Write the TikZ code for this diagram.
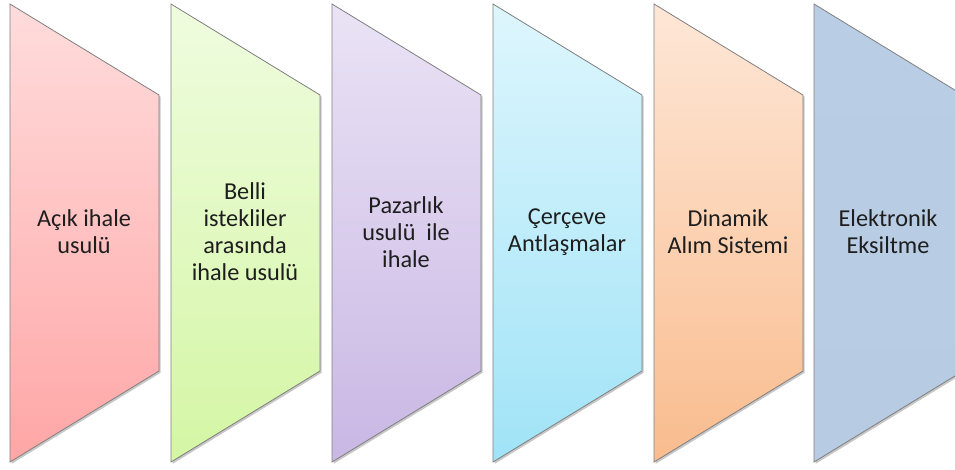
\documentclass[tikz,border=0pt]{standalone}
\usepackage{fontspec}
\setmainfont{Carlito}
\usetikzlibrary{shadows}

% fill colours of the six procedure shapes (top / bottom of the gradient)
\definecolor{redTop}{HTML}{FFDCDC}
\definecolor{redBot}{HTML}{FFA6A6}
\definecolor{greenTop}{HTML}{EFFCDF}
\definecolor{greenBot}{HTML}{D4F6A4}
\definecolor{purpleTop}{HTML}{EAE3F5}
\definecolor{purpleBot}{HTML}{C9B7E4}
\definecolor{cyanTop}{HTML}{DEF6FD}
\definecolor{cyanBot}{HTML}{A0E3F7}
\definecolor{orangeTop}{HTML}{FEE7D7}
\definecolor{orangeBot}{HTML}{F9BC8E}
\definecolor{blueTop}{HTML}{B9CDE5}
\definecolor{blueBot}{HTML}{B7CBE3}
\definecolor{edge}{HTML}{7F7F7F}
\definecolor{ink}{HTML}{1E1E1E}

% one trapezoid: #1 left x, #2 top colour, #3 bottom colour, #4 node name, #5 text
\newcommand{\procshape}[5]{%
  \path[procbox, top color=#2, bottom color=#3]
    (#1,4) -- ++(149,91) -- ++(0,276) -- (#1,462) -- cycle;
  \node[proclabel] (#4) at (#1+74,232) {#5};
}

\begin{document}
\begin{tikzpicture}[x=0.75pt, y=-0.75pt,
  procbox/.style={draw=edge, line width=0.6pt,
    drop shadow={shadow xshift=1.3pt, shadow yshift=-1.3pt, opacity=0.22, fill=black}},
  proclabel/.style={align=center, text=ink, inner sep=0pt,
    font=\fontsize{18.2}{20.3}\selectfont}]
\useasboundingbox (0,0) rectangle (955,469);
\clip (0,0) rectangle (955,469);

\procshape{10}{redTop}{redBot}{acik}{Açık ihale\\usulü}
\procshape{171}{greenTop}{greenBot}{belli}{Belli\\istekliler\\arasında\\ihale usulü}
\procshape{332}{purpleTop}{purpleBot}{pazarlik}{Pazarlık\\usulü\ \ ile\\ihale}
\procshape{493}{cyanTop}{cyanBot}{cerceve}{Çerçeve\\Antlaşmalar}
\procshape{654}{orangeTop}{orangeBot}{dinamik}{Dinamik\\Alım Sistemi}
\procshape{814}{blueTop}{blueBot}{eksiltme}{Elektronik\\Eksiltme}
\end{tikzpicture}
\end{document}
